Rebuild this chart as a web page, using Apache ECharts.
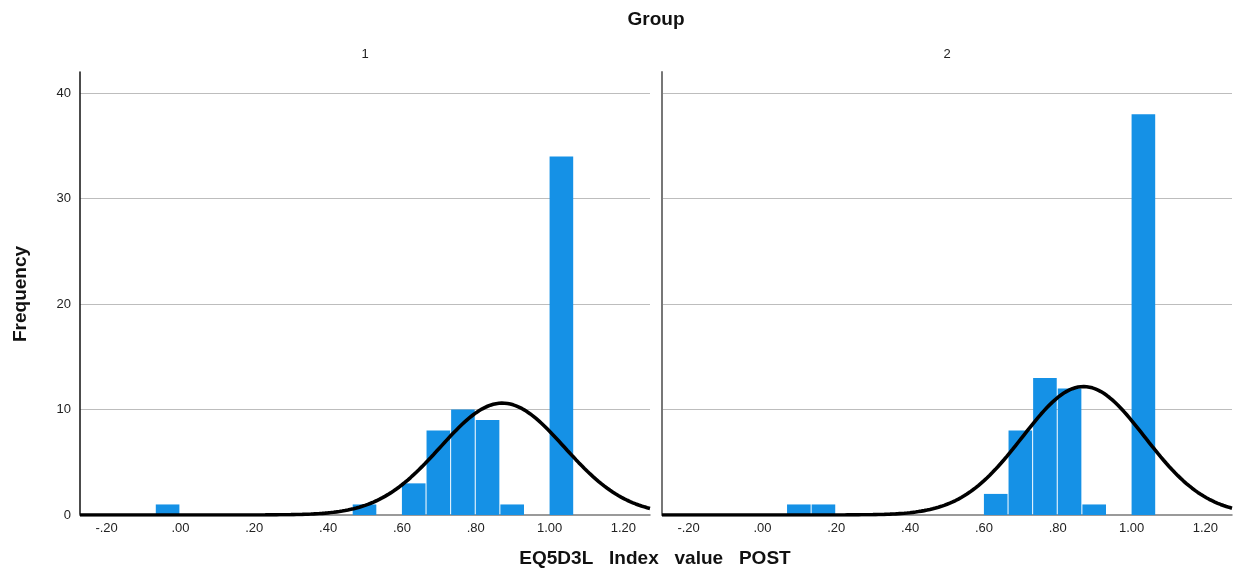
<!DOCTYPE html>
<html>
<head>
<meta charset="utf-8">
<title>EQ5D3L Index value POST by Group</title>
<script src="https://cdn.jsdelivr.net/npm/echarts@6/dist/echarts.min.js"></script>
<style>
  html, body { margin: 0; padding: 0; background: #ffffff; }
  #chart { width: 1235px; height: 569px; }
</style>
</head>
<body>
<div id="chart"></div>
<script>
// Panel headers
const groupNames = ['1', '2'];

// Histogram bin width and the lower edge / count of every non-empty bin
const binWidth = 1 / 15;
const group1BinStarts = [-0.0667, 0.4667, 0.6, 0.6667, 0.7333, 0.8, 0.8667, 1.0];
const group1Counts    = [1, 1, 3, 8, 10, 9, 1, 34];
const group2BinStarts = [0.0667, 0.1333, 0.6, 0.6667, 0.7333, 0.8, 0.8667, 1.0];
const group2Counts    = [1, 1, 2, 8, 13, 12, 1, 38];

// Normal-fit parameters per group
const groupMeans = [0.872, 0.870];
const groupSDs   = [0.168, 0.166];

// Axis ticks
const xTickValues = [-0.2, 0, 0.2, 0.4, 0.6, 0.8, 1.0, 1.2];
const yTickValues = [0, 10, 20, 30, 40];

const X_MIN = -0.272, X_MAX = 1.272;
const Y_MAX = 42;
const BAR_COLOR = '#1591e6';
const FONT = '"Liberation Sans", Arial, sans-serif';

function fmtX(v) {
  const s = Math.abs(v).toFixed(2);
  const t = s.startsWith('0') ? s.slice(1) : s;
  return (v < 0 ? '-' : '') + t;
}

function histogramSeries(idx, starts, counts) {
  return {
    type: 'custom',
    xAxisIndex: idx,
    yAxisIndex: idx,
    z: 2,
    clip: true,
    data: starts.map((s, i) => [s, s + binWidth, counts[i]]),
    encode: { x: [0, 1], y: 2 },
    renderItem: function (params, api) {
      const p0 = api.coord([api.value(0), 0]);
      const p1 = api.coord([api.value(1), api.value(2)]);
      return {
        type: 'rect',
        shape: { x: p0[0], y: p1[1], width: p1[0] - p0[0] - 1, height: p0[1] - p1[1] },
        style: { fill: BAR_COLOR }
      };
    }
  };
}

// Normal density scaled to frequency: N * binWidth * pdf(x)
function normalCurveSeries(idx, counts, mean, sd) {
  const n = counts.reduce((a, b) => a + b, 0);
  const pts = [];
  const steps = 400;
  for (let i = 0; i <= steps; i++) {
    const x = X_MIN + (X_MAX - X_MIN) * i / steps;
    const z = (x - mean) / sd;
    const y = n * binWidth * Math.exp(-0.5 * z * z) / (sd * Math.sqrt(2 * Math.PI));
    pts.push([x, y]);
  }
  return {
    type: 'line',
    xAxisIndex: idx,
    yAxisIndex: idx,
    z: 5,
    data: pts,
    showSymbol: false,
    smooth: false,
    silent: true,
    lineStyle: { color: '#000000', width: 3.6 },
    clip: true
  };
}

function xAxisCfg(idx) {
  return {
    type: 'value',
    gridIndex: idx,
    min: X_MIN,
    max: X_MAX,
    axisLine: { show: true, onZero: false, lineStyle: { color: '#7a7a7a', width: 1.5 } },
    axisTick: { show: false },
    splitLine: { show: false },
    axisLabel: {
      customValues: xTickValues,
      formatter: fmtX,
      color: '#222',
      fontFamily: FONT,
      fontSize: 13,
      margin: 7
    }
  };
}

function yAxisCfg(idx) {
  return {
    type: 'value',
    gridIndex: idx,
    min: 0,
    max: Y_MAX,
    interval: 10,
    axisLine: {
      show: true,
      onZero: false,
      lineStyle: idx === 0 ? { color: '#111', width: 1.5 } : { color: '#777', width: 2 }
    },
    axisTick: { show: false },
    axisLabel: {
      show: idx === 0,
      customValues: yTickValues,
      color: '#222',
      fontFamily: FONT,
      fontSize: 13,
      margin: 9
    },
    splitLine: {
      show: true,
      showMinLine: false,
      showMaxLine: false,
      lineStyle: { color: '#bdbdbd', width: 1 }
    }
  };
}

const chart = echarts.init(document.getElementById('chart'), null, { renderer: 'canvas' });

const grids = [
  { left: 80, right: 585, top: 72, bottom: 54 },
  { left: 662, right: 3, top: 72, bottom: 54 }
];

chart.setOption({
  animation: false,
  backgroundColor: '#ffffff',
  grid: grids,
  xAxis: [xAxisCfg(0), xAxisCfg(1)],
  yAxis: [yAxisCfg(0), yAxisCfg(1)],
  series: [
    histogramSeries(0, group1BinStarts, group1Counts),
    histogramSeries(1, group2BinStarts, group2Counts),
    normalCurveSeries(0, group1Counts, groupMeans[0], groupSDs[0]),
    normalCurveSeries(1, group2Counts, groupMeans[1], groupSDs[1])
  ],
  graphic: [
    {
      type: 'text', x: 656, y: 20,
      style: { text: 'Group', font: 'bold 19px ' + FONT, fill: '#111', align: 'center', verticalAlign: 'middle' }
    },
    {
      type: 'text', x: 365, y: 54,
      style: { text: groupNames[0], font: '13px ' + FONT, fill: '#222', align: 'center', verticalAlign: 'middle' }
    },
    {
      type: 'text', x: 947, y: 54,
      style: { text: groupNames[1], font: '13px ' + FONT, fill: '#222', align: 'center', verticalAlign: 'middle' }
    },
    {
      type: 'text', x: 21, y: 294, rotation: Math.PI / 2,
      style: { text: 'Frequency', font: 'bold 19px ' + FONT, fill: '#111', align: 'center', verticalAlign: 'middle' }
    },
    {
      type: 'text', x: 655, y: 559,
      style: { text: 'EQ5D3L   Index   value   POST', font: 'bold 19px ' + FONT, fill: '#111', align: 'center', verticalAlign: 'middle' }
    }
  ]
});
</script>
</body>
</html>
